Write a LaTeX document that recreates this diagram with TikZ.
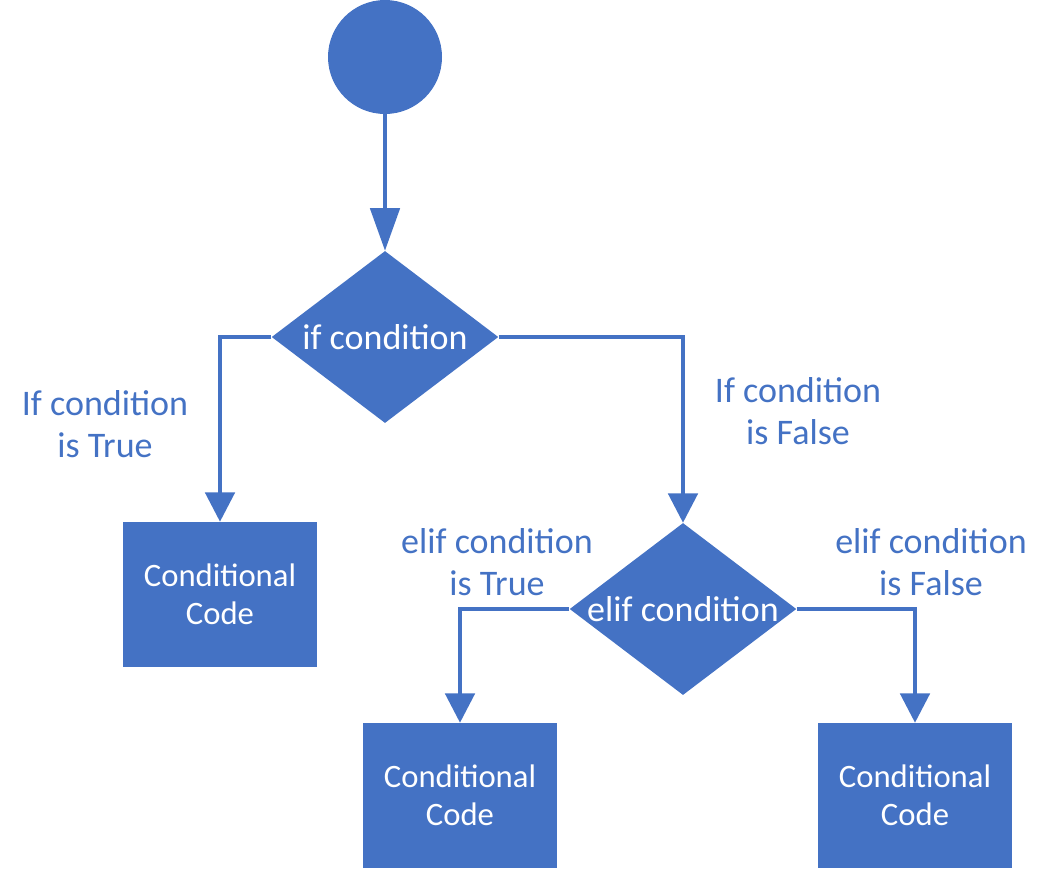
\documentclass[tikz,border=0pt]{standalone}
\usepackage{fontspec}
\setmainfont{Carlito}
\usepackage{xcolor}
\usetikzlibrary{arrows.meta,shapes.geometric}
\definecolor{officeblue}{HTML}{4472C4}

\begin{document}
\begin{tikzpicture}[x=0.75pt,y=-0.75pt,
    flow/.style={color=officeblue,line width=3pt,-{Triangle[length=22pt,width=22pt]}},
    decision/.style={diamond,aspect=1.31,fill=officeblue,text=white,inner sep=0pt,
        minimum width=170pt,minimum height=129pt,font=\fontsize{27}{32}\selectfont},
    codebox/.style={rectangle,fill=officeblue,text=white,align=center,
        minimum width=145.5pt,minimum height=108.75pt,font=\fontsize{24.5}{28.5}\selectfont},
    branch/.style={text=officeblue,align=center,font=\fontsize{27}{32}\selectfont}]
    \useasboundingbox (0,0) rectangle (1050,872);

    % Start
    \node[circle,fill=officeblue,minimum size=85.5pt,inner sep=0pt] (start) at (385,57) {};

    % Decisions
    \node[decision] (ifcond) at (385,337) {if condition};
    \node[decision] (elifcond) at (683,609) {elif condition};

    % Code blocks
    \node[codebox] (codeA) at (220,594.5) {Conditional\\Code};
    \node[codebox] (codeB) at (460,795.5) {Conditional\\Code};
    \node[codebox] (codeC) at (915,795.5) {Conditional\\Code};

    % Connectors
    \draw[flow,-{Triangle[length=32pt,width=22pt]}] (start) -- (ifcond);
    \draw[flow] (ifcond.west) -| (codeA.north);
    \draw[flow] (ifcond.east) -| (elifcond.north);
    \draw[flow] (elifcond.west) -| (codeB.north);
    \draw[flow] (elifcond.east) -| (codeC.north);

    % Labels
    \node[branch] (ifTrue) at (105,424) {If condition\\is True};
    \node[branch] (ifFalse) at (798,411) {If condition\\is False};
    \node[branch] (elifTrue) at (497,562) {elif condition\\is True};
    \node[branch] (elifFalse) at (931,562) {elif condition\\is False};
\end{tikzpicture}
\end{document}
